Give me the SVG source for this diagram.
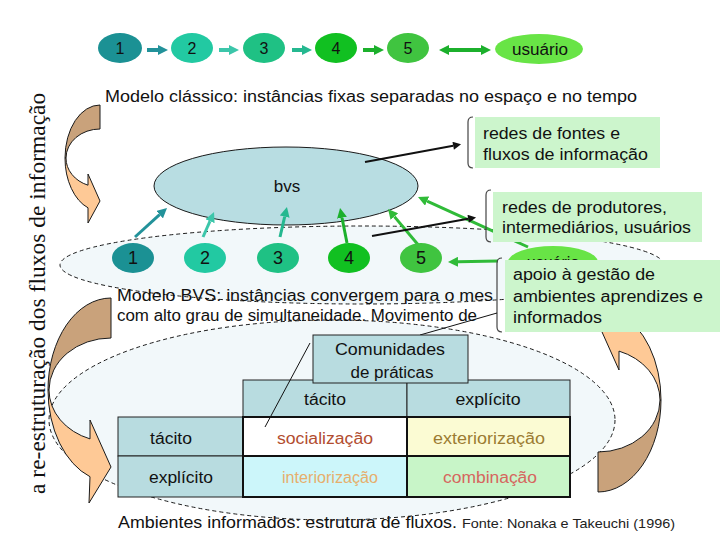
<svg xmlns="http://www.w3.org/2000/svg" width="720" height="540" viewBox="0 0 720 540">
<defs>
<style>
text{font-family:"Liberation Sans",Arial,Helvetica,sans-serif;fill:#111;font-size:16px}
.mid{text-anchor:middle}
.serif{font-family:"Liberation Serif","Times New Roman",serif;font-size:23.5px}
.zone{fill:#f2f8fa;stroke:none}
.dash{fill:none;stroke:#1a1a1a;stroke-width:1;stroke-dasharray:4 3}
.brown{fill:#c9a27b;stroke:#1a1a1a;stroke-width:1}
.peach{fill:#fec996;stroke:#1a1a1a;stroke-width:1}
.note{fill:#ccf5cc}
.brk{fill:none;stroke:#444;stroke-width:1.2}
.hdr{fill:#b8dce0;stroke:#222;stroke-width:1}
.cell{stroke:#111;stroke-width:2}
.c1{fill:#1b9194}.c2{fill:#22c9a2}.c3{fill:#1fc184}.c4{fill:#11c021}.c5{fill:#40c440}.cu{fill:#68e446}
.big{font-size:18px}
</style>
<marker id="aTeal" viewBox="0 0 10 10" refX="0" refY="5" markerWidth="10" markerHeight="10" markerUnits="userSpaceOnUse" orient="auto-start-reverse"><path d="M0,0 L10,5 L0,10 Z" fill="#22929a"/></marker>
<marker id="aAqua" viewBox="0 0 10 10" refX="0" refY="5" markerWidth="10" markerHeight="10" markerUnits="userSpaceOnUse" orient="auto-start-reverse"><path d="M0,0 L10,5 L0,10 Z" fill="#3cc6aa"/></marker>
<marker id="aSea" viewBox="0 0 10 10" refX="0" refY="5" markerWidth="10" markerHeight="10" markerUnits="userSpaceOnUse" orient="auto-start-reverse"><path d="M0,0 L10,5 L0,10 Z" fill="#25b890"/></marker>
<marker id="aGreen" viewBox="0 0 10 10" refX="0" refY="5" markerWidth="10" markerHeight="10" markerUnits="userSpaceOnUse" orient="auto-start-reverse"><path d="M0,0 L10,5 L0,10 Z" fill="#1cb02c"/></marker>
<marker id="aLime" viewBox="0 0 10 10" refX="0" refY="5" markerWidth="10" markerHeight="10" markerUnits="userSpaceOnUse" orient="auto-start-reverse"><path d="M0,0 L10,5 L0,10 Z" fill="#30bb38"/></marker>
<marker id="aBlk" viewBox="0 0 10 10" refX="0" refY="5" markerWidth="10" markerHeight="8" markerUnits="userSpaceOnUse" orient="auto"><path d="M0,0 L10,5 L0,10 Z" fill="#111"/></marker>
<path id="bigBrown" d="M0,-92 A63,92 0 0 0 -63,0 L-62,0 A62,52 0 0 1 0,-52 Z"/>
<path id="bigPeach" d="M-63,0 A63,92 0 0 0 -21,86.7 L-22,113 L0,77 L-21,30 L-21,48.9 A62,52 0 0 1 -62,0 Z"/>
</defs>
<rect width="720" height="540" fill="#fff"/>

<g id="zones">
<ellipse class="zone" cx="332" cy="420" rx="283" ry="100"/>
<ellipse class="zone" cx="362" cy="265" rx="302" ry="39"/>
<ellipse class="dash" cx="332" cy="420" rx="283" ry="100"/>
<ellipse class="dash" cx="362" cy="265" rx="302" ry="39"/>
</g>

<text class="serif" transform="translate(45,494) rotate(-90)">a re-estruturação dos fluxos de informação</text>

<g id="curved-arrows">
<g transform="translate(100,158)">
<path class="brown" d="M0,-53 A35,53 0 0 0 -35,0 L-34,0 A34,29 0 0 1 0,-29 Z"/>
<path class="peach" d="M-35,0 A35,53 0 0 0 -12,49.8 L-12,65 L0,43 L-12,16 L-12,27.2 A34,29 0 0 1 -34,0 Z"/>
</g>
<g transform="translate(111,390)">
<use href="#bigBrown" class="brown"/>
<use href="#bigPeach" class="peach"/>
</g>
<g transform="translate(598,400) rotate(180)">
<use href="#bigBrown" class="brown"/>
<use href="#bigPeach" class="peach"/>
</g>
</g>

<text x="105" y="102" textLength="532" lengthAdjust="spacingAndGlyphs">Modelo clássico: instâncias fixas separadas no espaço e no tempo</text>

<g id="bvs">
<ellipse cx="286" cy="186" rx="132" ry="39" fill="#b8dde2" stroke="#1a1a1a" stroke-width="1"/>
<text class="mid" x="287" y="192" style="font-size:17px">bvs</text>
</g>

<g id="connectors" fill="none">
<line x1="147" y1="50" x2="158" y2="50" stroke="#22929a" stroke-width="4" marker-end="url(#aTeal)"/>
<line x1="219" y1="50" x2="229" y2="50" stroke="#3cc6aa" stroke-width="4" marker-end="url(#aAqua)"/>
<line x1="292" y1="50" x2="302" y2="50" stroke="#25b890" stroke-width="4" marker-end="url(#aSea)"/>
<line x1="363" y1="50" x2="374" y2="50" stroke="#1cb02c" stroke-width="4" marker-end="url(#aGreen)"/>
<line x1="449" y1="50" x2="481" y2="50" stroke="#1cb02c" stroke-width="4" marker-start="url(#aGreen)" marker-end="url(#aGreen)"/>
<line x1="135" y1="237" x2="159.6" y2="214.7" stroke="#22929a" stroke-width="3" marker-end="url(#aTeal)"/>
<line x1="203" y1="237" x2="210" y2="221.2" stroke="#3cc6aa" stroke-width="3" marker-end="url(#aAqua)"/>
<line x1="280" y1="237" x2="284.7" y2="216.7" stroke="#25b890" stroke-width="3" marker-end="url(#aSea)"/>
<line x1="347" y1="243" x2="342" y2="217.8" stroke="#1cb02c" stroke-width="3" marker-end="url(#aGreen)"/>
<line x1="420" y1="247" x2="394.4" y2="216.6" stroke="#30bb38" stroke-width="3" marker-end="url(#aLime)"/>
<line x1="528" y1="247" x2="427.1" y2="201.1" stroke="#30bb38" stroke-width="3" marker-end="url(#aLime)"/>
<line x1="498" y1="261" x2="458" y2="261.8" stroke="#30bb38" stroke-width="3" marker-end="url(#aLime)"/>
<line x1="365" y1="162" x2="453.2" y2="145.8" stroke="#111" stroke-width="2" marker-end="url(#aBlk)"/>
<line x1="372" y1="236" x2="468.2" y2="218.8" stroke="#111" stroke-width="2" marker-end="url(#aBlk)"/>
</g>

<g id="top-row">
<g id="t1"><ellipse class="c1" cx="120" cy="48" rx="22" ry="15"/><text class="mid" x="120" y="54">1</text></g>
<g id="t2"><ellipse class="c2" cx="192" cy="48" rx="21" ry="15"/><text class="mid" x="192" y="54">2</text></g>
<g id="t3"><ellipse class="c3" cx="264" cy="48" rx="21" ry="15"/><text class="mid" x="264" y="54">3</text></g>
<g id="t4"><ellipse class="c4" cx="336" cy="48" rx="21" ry="15"/><text class="mid" x="336" y="54">4</text></g>
<g id="t5"><ellipse class="c5" cx="408" cy="48" rx="21" ry="15"/><text class="mid" x="408" y="54">5</text></g>
<g id="tU"><ellipse class="cu" cx="539" cy="49" rx="44" ry="15"/><text class="mid" x="540" y="55" textLength="56" lengthAdjust="spacingAndGlyphs">usuário</text></g>
</g>

<g id="bottom-row">
<g id="b1"><ellipse class="c1" cx="133" cy="258" rx="21" ry="15"/><text class="mid big" x="133" y="264">1</text></g>
<g id="b2"><ellipse class="c2" cx="205" cy="258" rx="21" ry="15"/><text class="mid big" x="205" y="264">2</text></g>
<g id="b3"><ellipse class="c3" cx="278" cy="258" rx="21" ry="15"/><text class="mid big" x="278" y="264">3</text></g>
<g id="b4"><ellipse class="c4" cx="349" cy="258" rx="21" ry="15"/><text class="mid big" x="349" y="264">4</text></g>
<g id="b5"><ellipse class="c5" cx="421" cy="258" rx="21" ry="15"/><text class="mid big" x="421" y="264">5</text></g>
<g id="bU"><ellipse class="cu" cx="553" cy="262" rx="45" ry="16"/><text class="mid" x="553" y="268">usuário</text></g>
</g>

<text x="117" y="301" textLength="376" lengthAdjust="spacingAndGlyphs">Modelo BVS: instâncias convergem para o mes</text>
<text x="117" y="321" textLength="360" lengthAdjust="spacingAndGlyphs">com alto grau de simultaneidade. Movimento de</text>

<g id="note1">
<rect class="note" x="475" y="117" width="185" height="51"/>
<path class="brk" d="M473,117 Q468,117 468,122 L468,163 Q468,168 473,168"/>
<text x="483" y="139" textLength="137" lengthAdjust="spacingAndGlyphs">redes de fontes e</text>
<text x="483" y="160" textLength="165" lengthAdjust="spacingAndGlyphs">fluxos de informação</text>
</g>
<g id="note2">
<rect class="note" x="493" y="192" width="209" height="50"/>
<path class="brk" d="M491,190 Q486,190 486,195 L486,237 Q486,242 491,242"/>
<text x="502" y="213" textLength="165" lengthAdjust="spacingAndGlyphs">redes de produtores,</text>
<text x="502" y="233" textLength="189" lengthAdjust="spacingAndGlyphs">intermediários, usuários</text>
</g>
<g id="note3">
<rect class="note" x="505" y="260" width="215" height="72"/>
<path class="brk" d="M502,258 Q497,258 497,263 L497,327 Q497,332 502,332"/>
<text x="513" y="280" textLength="142" lengthAdjust="spacingAndGlyphs">apoio à gestão de</text>
<text x="513" y="302" textLength="190" lengthAdjust="spacingAndGlyphs">ambientes aprendizes e</text>
<text x="513" y="323" textLength="89" lengthAdjust="spacingAndGlyphs">informados</text>
</g>
<line x1="497" y1="313" x2="420" y2="335" stroke="#111" stroke-width="1"/>

<g id="table">
<rect class="hdr" x="243" y="380" width="164" height="37"/>
<rect class="hdr" x="407" y="380" width="163" height="37"/>
<rect class="hdr" x="118" y="417" width="125" height="39"/>
<rect class="hdr" x="118" y="456" width="125" height="41"/>
<rect class="cell" x="243" y="417" width="164" height="39" fill="#ffffff"/>
<rect class="cell" x="407" y="417" width="163" height="39" fill="#fbfbd3"/>
<rect class="cell" x="243" y="456" width="164" height="41" fill="#ccf6fa"/>
<rect class="cell" x="407" y="456" width="163" height="41" fill="#c8f5c8"/>
<text class="mid" x="325" y="405" textLength="42" lengthAdjust="spacingAndGlyphs">tácito</text>
<text class="mid" x="488" y="405" textLength="65" lengthAdjust="spacingAndGlyphs">explícito</text>
<text x="150" y="444" textLength="42" lengthAdjust="spacingAndGlyphs">tácito</text>
<text x="149" y="483" textLength="64" lengthAdjust="spacingAndGlyphs">explícito</text>
<text class="mid" x="325" y="444" textLength="96" lengthAdjust="spacingAndGlyphs" style="fill:#b24d30">socialização</text>
<text class="mid" x="489" y="444" textLength="112" lengthAdjust="spacingAndGlyphs" style="fill:#9c7b32">exteriorização</text>
<text class="mid" x="330" y="483" textLength="96" lengthAdjust="spacingAndGlyphs" style="fill:#e6ae6c">interiorização</text>
<text class="mid" x="490" y="483" textLength="94" lengthAdjust="spacingAndGlyphs" style="fill:#d6665e">combinação</text>
</g>

<g id="comunidades">
<rect class="hdr" x="313" y="335" width="155" height="48"/>
<text class="mid" x="390" y="355" textLength="110" lengthAdjust="spacingAndGlyphs">Comunidades</text>
<text class="mid" x="392" y="378" textLength="83" lengthAdjust="spacingAndGlyphs">de práticas</text>
</g>
<line x1="310" y1="343" x2="265" y2="427" stroke="#111" stroke-width="1"/>

<text x="118" y="528" textLength="339" lengthAdjust="spacingAndGlyphs">Ambientes informados: estrutura de fluxos.</text>
<text x="462" y="528" textLength="213" lengthAdjust="spacingAndGlyphs" style="font-size:13px;fill:#222">Fonte: Nonaka e Takeuchi (1996)</text>
</svg>
